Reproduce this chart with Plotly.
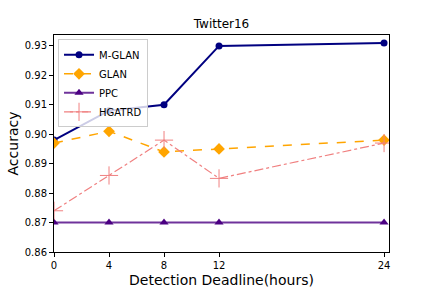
import plotly.graph_objects as go

hours = [0, 4, 8, 12, 24]
mglan = [0.898, 0.908, 0.910, 0.930, 0.931]
glan = [0.897, 0.901, 0.894, 0.895, 0.898]
ppc = [0.870, 0.870, 0.870, 0.870, 0.870]
hgatrd = [0.874, 0.886, 0.898, 0.885, 0.897]
yticks = [0.86, 0.87, 0.88, 0.89, 0.90, 0.91, 0.92, 0.93]

fig = go.Figure()
fig.add_trace(go.Scatter(x=hours, y=mglan, name="M-GLAN", mode="lines+markers",
                         line=dict(color="#000080", width=2),
                         marker=dict(symbol="circle", size=7, color="#000080")))
fig.add_trace(go.Scatter(x=hours, y=glan, name="GLAN", mode="lines+markers",
                         line=dict(color="#FFA500", width=1.5, dash="dash"),
                         marker=dict(symbol="diamond", size=9, color="#FFA500")))
fig.add_trace(go.Scatter(x=hours, y=ppc, name="PPC", mode="lines+markers",
                         line=dict(color="rgba(75,0,130,0.8)", width=2),
                         marker=dict(symbol="triangle-up", size=8, color="#4B0082")))
fig.add_trace(go.Scatter(x=hours, y=hgatrd, name="HGATRD", mode="lines+markers",
                         line=dict(color="#F08080", width=1.2, dash="dashdot"),
                         marker=dict(symbol="cross-thin", size=13,
                                     line=dict(color="#F08080", width=1), color="#F08080")))

axis_common = dict(showline=True, linecolor="black", linewidth=1, mirror=True,
                   ticks="outside", ticklen=4, tickcolor="black", showgrid=False,
                   zeroline=False, automargin=False,
                   tickfont=dict(size=10, color="black"))

fig.update_layout(
    width=432, height=288,
    margin=dict(l=54, r=43, t=35, b=36),
    plot_bgcolor="white", paper_bgcolor="white",
    font=dict(family="DejaVu Sans", color="black"),
    title=dict(text="Twitter16", x=(54 + 389) / 2 / 432, xanchor="center",
               y=1 - 24 / 288, yanchor="middle", font=dict(size=12)),
    xaxis=dict(range=[0, 24.36], tickvals=hours, ticktext=[str(h) for h in hours],
               title=dict(text="Detection Deadline(hours)", font=dict(size=14), standoff=6),
               **axis_common),
    yaxis=dict(range=[0.86, 0.9337], tickvals=yticks,
               ticktext=[f"{v:.2f}" for v in yticks],
               title=dict(text="Accuracy", font=dict(size=14), standoff=2),
               **axis_common),
    legend=dict(x=0.012, y=0.98, xanchor="left", yanchor="top",
                bordercolor="#cccccc", borderwidth=1, bgcolor="rgba(255,255,255,0.8)",
                font=dict(size=10), tracegroupgap=0, itemwidth=30),
    showlegend=True,
)

fig.write_html("out.html", config={"displayModeBar": False},
               post_script="document.body.style.margin='0px';document.body.style.padding='0px';")
